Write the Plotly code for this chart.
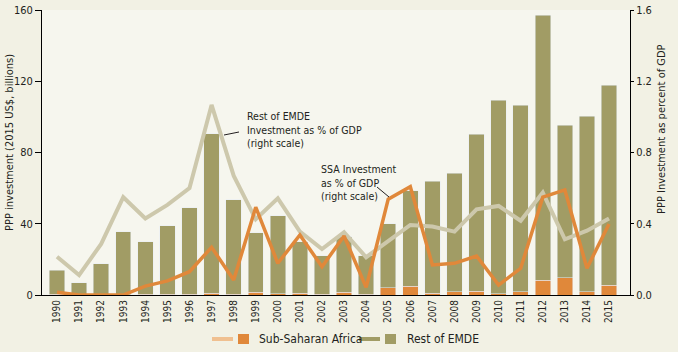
import plotly.graph_objects as go

years = [str(y) for y in range(1990, 2016)]
ssa_bar = [0.5, 0.2, 0.2, 0.2, 0.3, 0.3, 0.3, 1.1, 0.4, 1.5, 0.7, 1.0, 0.3,
           1.5, 0.3, 4.1, 5.0, 0.9, 1.7, 2.2, 0.6, 1.7, 8.4, 9.7, 1.9, 5.4]
rest_bar = [13.5, 6.7, 17.4, 35.3, 29.6, 38.6, 48.7, 89.4, 53.1, 33.5, 43.8,
            28.9, 21.6, 31.2, 21.6, 35.9, 53.5, 63.1, 66.7, 88.1, 108.8, 104.9,
            148.6, 85.7, 98.5, 112.4]
rest_gdp = [0.215, 0.112, 0.287, 0.549, 0.43, 0.506, 0.6, 1.067, 0.67, 0.425,
            0.543, 0.356, 0.258, 0.352, 0.212, 0.3, 0.393, 0.384, 0.356, 0.481,
            0.5, 0.417, 0.575, 0.313, 0.361, 0.429]
ssa_gdp = [0.015, 0.0, 0.0, 0.0, 0.05, 0.079, 0.131, 0.268, 0.084, 0.493,
           0.178, 0.337, 0.159, 0.331, 0.043, 0.538, 0.608, 0.169, 0.178,
           0.219, 0.056, 0.15, 0.549, 0.59, 0.15, 0.399]

FONT = "Liberation Sans Narrow, DejaVu Sans Condensed, Arial Narrow, sans-serif"
OLIVE = "#a19c65"
ORANGE = "#e0883a"
GREY = "#cdc8ac"
TXT = "#231f20"

fig = go.Figure()
fig.add_bar(x=years, y=ssa_bar, marker_color=ORANGE, width=0.7,
            name="Sub-Saharan Africa", showlegend=False)
fig.add_bar(x=years, y=rest_bar, marker_color=OLIVE, width=0.7,
            name="Rest of EMDE", showlegend=False)
fig.add_scatter(x=years, y=rest_gdp, yaxis="y2", mode="lines",
                line=dict(color=GREY, width=4), showlegend=False)
fig.add_scatter(x=years, y=ssa_gdp, yaxis="y2", mode="lines",
                line=dict(color=ORANGE, width=3.5), showlegend=False)

fig.update_layout(
    width=678, height=352,
    margin=dict(l=42, r=48, t=10, b=57),
    paper_bgcolor="#f2f1e4", plot_bgcolor="#f6f6ee",
    barmode="stack", bargap=0.3,
    font=dict(family=FONT, color=TXT, size=11),
    xaxis=dict(type="category", range=[-0.68, 25.95], showline=True,
               linecolor="black", linewidth=1, ticks="", tickangle=-90,
               tickfont=dict(size=10), showgrid=False, automargin=False),
    yaxis=dict(range=[0, 160], tickvals=[0, 40, 80, 120, 160], showline=True,
               linecolor="black", linewidth=1, ticks="outside", ticklen=6,
               tickcolor="black", showgrid=False, zeroline=False,
               tickfont=dict(size=11), automargin=False),
    yaxis2=dict(range=[0, 1.6], overlaying="y", side="right",
                tickvals=[0, 0.4, 0.8, 1.2, 1.6], tickformat=".1f",
                showline=True, linecolor="black", linewidth=1,
                ticks="outside", ticklen=3, tickcolor="black",
                showgrid=False, zeroline=False, tickfont=dict(size=11),
                automargin=False),
)

def px(x):
    return (x - 42) / 588

def py(y):
    return (295 - y) / 285

anns = [
    dict(x=px(9), y=py(143), text="PPP investment (2015 US$, billions)",
         textangle=-90, font=dict(size=11)),
    dict(x=px(661), y=py(129), text="PPP Investment as percent of GDP",
         textangle=-90, font=dict(size=11)),
    dict(x=px(245), y=py(108), xanchor="left", yanchor="top", align="left",
         text="Rest of EMDE<br>Investment as % of GDP<br>(right scale)",
         font=dict(size=10.5)),
    dict(x=px(319), y=py(161), xanchor="left", yanchor="top", align="left",
         text="SSA Investment<br>as % of GDP<br>(right scale)",
         font=dict(size=10.5)),
    dict(x=px(257), y=py(339), xanchor="left", text="Sub-Saharan Africa",
         font=dict(size=12)),
    dict(x=px(405), y=py(339), xanchor="left", text="Rest of EMDE",
         font=dict(size=12)),
]
for a in anns:
    a.update(xref="paper", yref="paper", showarrow=False)
    a.setdefault("xanchor", "center")
    a.setdefault("yanchor", "middle")
fig.update_layout(annotations=anns)

shapes = [
    dict(type="line", x0=px(224), y0=py(135), x1=px(239), y1=py(132),
         line=dict(color=TXT, width=1)),
    dict(type="line", x0=px(377), y0=py(187), x1=px(389), y1=py(197),
         line=dict(color=TXT, width=1)),
    dict(type="line", x0=px(212), y0=py(339), x1=px(233), y1=py(339),
         line=dict(color="#f0c090", width=4)),
    dict(type="rect", x0=px(238), y0=py(334), x1=px(249), y1=py(344),
         fillcolor=ORANGE, line=dict(width=0)),
    dict(type="line", x0=px(359), y0=py(339), x1=px(380), y1=py(339),
         line=dict(color=OLIVE, width=4)),
    dict(type="rect", x0=px(385), y0=py(334), x1=px(396), y1=py(344),
         fillcolor=OLIVE, line=dict(width=0)),
]
for s in shapes:
    s.update(xref="paper", yref="paper")
fig.update_layout(shapes=shapes)

fig.write_html("out.html")
